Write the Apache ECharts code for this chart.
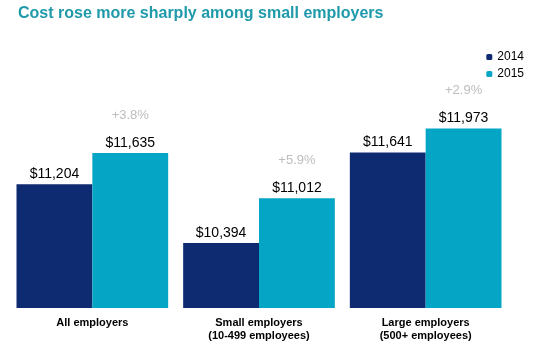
<!DOCTYPE html>
<html>
<head>
<meta charset="utf-8">
<script src="https://cdn.jsdelivr.net/npm/echarts@6/dist/echarts.min.js"></script>
<style>
  html, body { margin: 0; padding: 0; background: #fff; }
  #chart { width: 535px; height: 351px; }
</style>
</head>
<body>
<div id="chart"></div>
<script>
const categories = ['All employers', 'Small employers\n(10-499 employees)', 'Large employers\n(500+ employees)'];
const cost2014 = [11204, 10394, 11641];
const cost2015 = [11635, 11012, 11973];
const changes = ['+3.8%', '+5.9%', '+2.9%'];

const chart = echarts.init(document.getElementById('chart'));

const money = (v) => '$' + v.toLocaleString('en-US');

const option = {
  animation: false,
  textStyle: { fontFamily: 'Arial, "Liberation Sans", sans-serif' },
  title: {
    text: 'Cost rose more sharply among small employers',
    left: 13,
    top: 1,
    textStyle: { color: '#1f9aaa', fontSize: 16, fontWeight: 'bold' }
  },
  legend: {
    orient: 'vertical',
    right: 6,
    top: 46,
    itemWidth: 6,
    itemHeight: 6,
    itemGap: 5,
    textStyle: { fontSize: 12, color: '#000' },
    data: ['2014', '2015']
  },
  grid: { left: 9, right: 26, top: 54, bottom: 43 },
  xAxis: {
    type: 'category',
    data: categories,
    axisLine: { show: false },
    axisTick: { show: false },
    axisLabel: { color: '#000', fontSize: 11, fontWeight: 'bold', lineHeight: 13, margin: 8 }
  },
  yAxis: {
    type: 'value',
    min: 9500,
    max: 13000,
    show: false
  },
  series: [
    {
      name: '2014',
      type: 'bar',
      data: cost2014,
      barGap: '0%',
      barCategoryGap: '9%',
      itemStyle: { color: '#0e2a70' },
      label: {
        show: true,
        position: 'top',
        distance: 3,
        fontSize: 14,
        color: '#000',
        formatter: (p) => money(p.value)
      }
    },
    {
      name: '2015',
      type: 'bar',
      data: cost2015,
      itemStyle: { color: '#05a5c5' },
      label: {
        show: true,
        position: 'top',
        distance: 2,
        formatter: (p) => '{p|' + changes[p.dataIndex] + '}\n{v|' + money(p.value) + '}',
        rich: {
          p: { fontSize: 13, color: '#bdbdbd', lineHeight: 40 },
          v: { fontSize: 14, color: '#000', lineHeight: 16 }
        }
      }
    }
  ]
};

chart.setOption(option);
</script>
</body>
</html>
